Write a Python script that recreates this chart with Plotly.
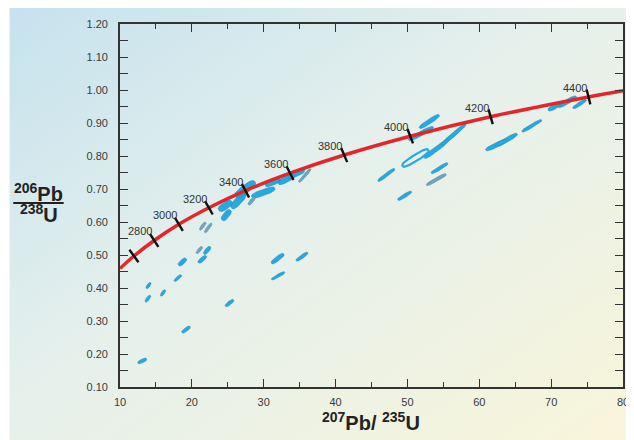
import base64
import numpy as np
import plotly.graph_objects as go

# ---------------- data ----------------
# Concordia curve points (age Ma, 207Pb/235U, 206Pb/238U)
conc_age = [2435, 2600, 2800, 3000, 3200, 3400, 3600, 3800, 4000, 4200, 4400, 4462]
conc_x = [10.00, 11.94, 14.76, 18.19, 22.37, 27.46, 33.66, 41.20, 50.39, 61.58, 75.20, 80.00]
conc_y = [0.459, 0.497, 0.544, 0.593, 0.643, 0.695, 0.748, 0.803, 0.860, 0.919, 0.979, 0.998]

# age tick marks on the concordia
tick_age = [2600, 2800, 3000, 3200, 3400, 3600, 3800, 4000, 4200, 4400]
tick_x = [11.94, 14.76, 18.19, 22.37, 27.46, 33.66, 41.20, 50.39, 61.58, 75.20]
tick_y = [0.497, 0.544, 0.593, 0.643, 0.695, 0.748, 0.803, 0.860, 0.919, 0.979]
label_ages = ["2800", "3000", "3200", "3400", "3600", "3800", "4000", "4200", "4400"]

# error ellipses: end points (x1, y1) - (x2, y2)
ell_blue_x1 = [12.48, 18.62, 13.53, 13.67, 15.68, 17.56, 18.16, 20.90, 21.69, 24.67, 31.08, 31.08, 34.52,
               23.75, 24.21, 25.54, 26.05, 28.33, 30.18, 32.00, 33.38,
               51.67, 50.16, 52.36, 54.70, 53.32, 45.90, 48.65, 60.89, 62.26, 65.93, 69.59, 70.97, 73.03]
ell_blue_y1 = [0.173, 0.265, 0.358, 0.399, 0.376, 0.421, 0.469, 0.477, 0.503, 0.345, 0.475, 0.426, 0.483,
               0.636, 0.606, 0.642, 0.677, 0.677, 0.712, 0.717, 0.737,
               0.885, 0.848, 0.794, 0.833, 0.748, 0.724, 0.667, 0.818, 0.830, 0.874, 0.939, 0.949, 0.945]
ell_blue_x2 = [13.71, 19.76, 14.22, 14.26, 16.29, 18.53, 19.21, 22.00, 22.56, 25.82, 32.79, 32.93, 36.13,
               25.58, 25.36, 27.43, 28.80, 31.55, 32.28, 34.30, 35.68,
               54.42, 53.60, 55.66, 58.14, 55.62, 48.23, 50.57, 63.78, 65.29, 68.68, 71.43, 73.50, 74.87]
ell_blue_y2 = [0.185, 0.283, 0.377, 0.416, 0.394, 0.439, 0.489, 0.497, 0.525, 0.364, 0.503, 0.448, 0.507,
               0.662, 0.636, 0.687, 0.722, 0.702, 0.730, 0.742, 0.758,
               0.924, 0.888, 0.848, 0.897, 0.778, 0.761, 0.692, 0.848, 0.867, 0.909, 0.960, 0.980, 0.970]
ell_blue_w = [3.5, 3.5, 3, 3, 3, 3, 4.5, 4, 4, 3.5, 4.5, 3, 3.5,
              7, 6, 7, 8, 6, 6, 6, 6,
              4.5, 4.5, 4.5, 4, 3.5, 3.5, 3.5, 4.5, 4.5, 3.5, 4.5, 4.5, 3.5]

ell_gray_x1 = [20.63, 21.10, 21.79, 27.88, 34.89, 52.64]
ell_gray_y1 = [0.505, 0.576, 0.568, 0.652, 0.721, 0.712]
ell_gray_x2 = [21.45, 21.92, 22.75, 28.80, 36.54, 55.39]
ell_gray_y2 = [0.525, 0.599, 0.596, 0.677, 0.761, 0.745]
ell_gray_w = [3, 3, 3, 3.5, 3, 3.5]

ell_open_x1 = [49.33]
ell_open_y1 = [0.770]
ell_open_x2 = [52.91]
ell_open_y2 = [0.818]
ell_open_w = [6]

x_ticks = [10, 20, 30, 40, 50, 60, 70, 80]
y_ticks = [0.10, 0.20, 0.30, 0.40, 0.50, 0.60, 0.70, 0.80, 0.90, 1.00, 1.10, 1.20]

# ---------------- layout constants ----------------
# the page adds an 8px body margin, so the figure is 8px smaller than the window
OFF = 8
W, H = 626, 432
ML, MR, MT, MB = 112, 5, 16, 53
PW, PH = W - ML - MR, H - MT - MB
XR, YR = [10, 80], [0.10, 1.20]
SX = PW / (XR[1] - XR[0])
SY = PH / (YR[1] - YR[0])


def ellipses(x1s, y1s, x2s, y2s, ws, p=0.7):
    """Elongated (slightly squared) ellipses between the two end points."""
    xs, ys = [], []
    t = np.linspace(0, 2 * np.pi, 60)
    ct = np.sign(np.cos(t)) * np.abs(np.cos(t)) ** p
    st = np.sign(np.sin(t)) * np.abs(np.sin(t)) ** p
    for x1, y1, x2, y2, w in zip(x1s, y1s, x2s, y2s, ws):
        X1, Y1, X2, Y2 = x1 * SX, y1 * SY, x2 * SX, y2 * SY
        cx, cy = (X1 + X2) / 2, (Y1 + Y2) / 2
        dx, dy = (X2 - X1) / 2, (Y2 - Y1) / 2
        L = np.hypot(dx, dy)
        ux, uy = dx / L, dy / L
        px = cx + L * ct * ux - (w / 2) * st * uy
        py = cy + L * ct * uy + (w / 2) * st * ux
        xs += list(px / SX) + [None]
        ys += list(py / SY) + [None]
    return xs, ys


fig = go.Figure()

bx, by = ellipses(ell_blue_x1, ell_blue_y1, ell_blue_x2, ell_blue_y2, ell_blue_w)
fig.add_trace(go.Scatter(x=bx, y=by, mode="lines", fill="toself", fillcolor="#29a8e0",
                         line=dict(color="#1d92c6", width=0.6), hoverinfo="skip"))
gx, gy = ellipses(ell_gray_x1, ell_gray_y1, ell_gray_x2, ell_gray_y2, ell_gray_w)
fig.add_trace(go.Scatter(x=gx, y=gy, mode="lines", fill="toself", fillcolor="#6ea5c0",
                         line=dict(color="#5a8fa8", width=0.6), hoverinfo="skip"))
ox, oy = ellipses(ell_open_x1, ell_open_y1, ell_open_x2, ell_open_y2, ell_open_w)
fig.add_trace(go.Scatter(x=ox, y=oy, mode="lines", fill="toself", fillcolor="rgba(230,243,240,0.9)",
                         line=dict(color="#29a8e0", width=2.2), hoverinfo="skip"))

# concordia
fig.add_trace(go.Scatter(x=conc_x, y=conc_y, mode="lines", line=dict(color="#e3262a", width=3.5, shape="spline"),
                         hoverinfo="skip"))

# concordia age ticks
tick_angles = [-36, -33, -31, -30, -28, -27, -23, -21, -16, -14]
fig.add_trace(go.Scatter(x=tick_x, y=tick_y, mode="markers",
                         marker=dict(symbol="line-ns", size=11, angle=tick_angles,
                                     line=dict(color="#111111", width=2.4)),
                         hoverinfo="skip"))

for lab, xx, yy in zip(label_ages, tick_x[1:], tick_y[1:]):
    fig.add_annotation(x=xx, y=yy, text=lab, showarrow=False, xshift=-14, yshift=9,
                       font=dict(family="Liberation Sans, Arial", size=11, color="#333333"))

# background gradient covering the whole figure
svg = ("<svg xmlns='http://www.w3.org/2000/svg' width='626' height='432' preserveAspectRatio='none'>"
       "<defs><linearGradient id='g' x1='0' y1='0' x2='1' y2='1'>"
       "<stop offset='0' stop-color='#c6e2ee'/>"
       "<stop offset='0.45' stop-color='#e5f0ec'/>"
       "<stop offset='1' stop-color='#f8f5da'/>"
       "</linearGradient></defs>"
       "<rect x='0' y='0' width='626' height='432' fill='url(#g)'/></svg>")
src = "data:image/svg+xml;base64," + base64.b64encode(svg.encode()).decode()
fig.add_layout_image(dict(source=src, xref="paper", yref="paper",
                          x=-ML / PW, y=1 + MT / PH,
                          sizex=W / PW, sizey=H / PH,
                          xanchor="left", yanchor="top", sizing="stretch", layer="below"))


# helpers: screen pixel -> paper coordinates
def px_x(p):
    return (p - OFF - ML) / PW


def px_y(p):
    return (H - MB - (p - OFF)) / PH


lab_font = dict(family="Liberation Sans, Arial", size=20, color="#222222")
fig.add_annotation(xref="paper", yref="paper", x=px_x(38), y=px_y(192), text="<b><sup>206</sup>Pb</b>",
                   showarrow=False, font=lab_font, xanchor="center", yanchor="middle")
fig.add_annotation(xref="paper", yref="paper", x=px_x(38), y=px_y(214), text="<b><sup>238</sup>U</b>",
                   showarrow=False, font=lab_font, xanchor="center", yanchor="middle")
fig.add_shape(type="line", xref="paper", yref="paper", x0=px_x(12), x1=px_x(63), y0=px_y(203), y1=px_y(203),
              line=dict(color="#222222", width=2))
fig.add_annotation(xref="paper", yref="paper", x=px_x(374), y=px_y(421),
                   text="<b><sup>207</sup>Pb/ <sup>235</sup>U</b>",
                   showarrow=False, font=lab_font, xanchor="center", yanchor="middle")

axis_common = dict(showgrid=False, zeroline=False, showline=True, linecolor="#333333", linewidth=1.6,
                   mirror="allticks", ticks="inside", tickcolor="#333333", tickwidth=1.4,
                   tickfont=dict(family="Liberation Sans, Arial", size=11, color="#3a3a3a"))

fig.update_layout(
    width=W, height=H, margin=dict(l=ML, r=MR, t=MT, b=MB),
    paper_bgcolor="white", plot_bgcolor="rgba(0,0,0,0)", showlegend=False,
    xaxis=dict(range=XR, tickvals=x_ticks, ticklen=8, ticklabelstandoff=4,
               minor=dict(dtick=5, ticks="inside", ticklen=5, tickcolor="#333333", tickwidth=1.4),
               **axis_common),
    yaxis=dict(range=YR, tickvals=y_ticks, tickformat=".2f", ticklen=8, ticklabelstandoff=8,
               minor=dict(dtick=0.05, ticks="inside", ticklen=8, tickcolor="#333333", tickwidth=1.4),
               **axis_common),
)

fig.write_html("out.html")
